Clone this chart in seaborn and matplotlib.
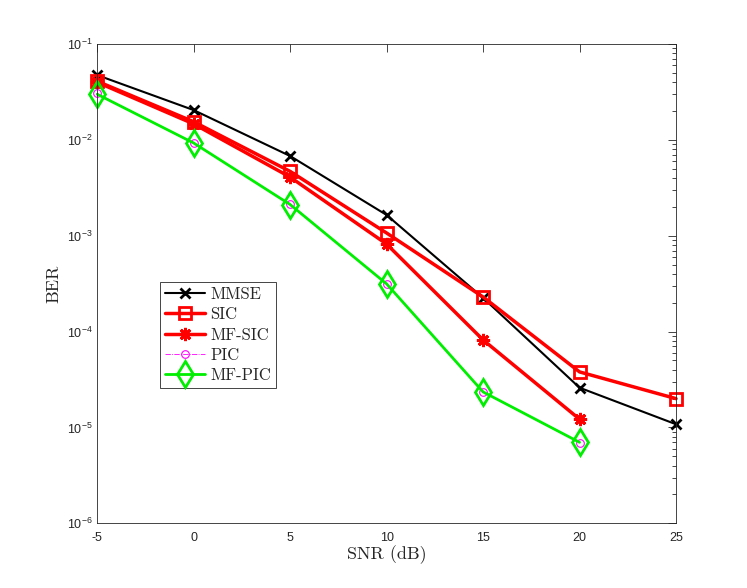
import numpy as np
import pandas as pd
import matplotlib
matplotlib.use("Agg")
import matplotlib.pyplot as plt
import seaborn as sns
from matplotlib.ticker import LogLocator, NullFormatter, FixedLocator

# data
snr_long = [-5, 0, 5, 10, 15, 20, 25]
snr_short = [-5, 0, 5, 10, 15, 20]
mmse = [0.0475, 0.0205, 0.0068, 0.00165, 2.25e-4, 2.6e-5, 1.08e-5]
sic = [0.041, 0.0155, 0.0047, 0.00107, 2.3e-4, 3.8e-5, 2.0e-5]
mf_sic = [0.040, 0.0147, 0.0041, 8.2e-4, 8.2e-5, 1.22e-5]
pic = [0.0306, 0.0092, 0.00215, 3.15e-4, 2.33e-5, 6.97e-6]
mf_pic = [0.0300, 0.0093, 0.00212, 3.15e-4, 2.35e-5, 7.0e-6]

sns.set_style("white")
plt.rcParams['font.family'] = ['Liberation Sans', 'DejaVu Sans']
plt.rcParams['mathtext.default'] = 'regular'
plt.rcParams['axes.unicode_minus'] = False

fig = plt.figure(figsize=(7.47, 5.88), dpi=100)
ax = fig.add_axes([0.13, 0.11, 0.775, 0.815])

# name, x, y, colour, line width, line style, marker, marker size, marker edge width
series = [
    ("MMSE", snr_long, mmse, "black", 1.5, "-", "x", 7.5, 2.0),
    ("SIC", snr_long, sic, "#ff0000", 2.5, "-", "s", 8.5, 2.0),
    ("MF-SIC", snr_short, mf_sic, "#ff0000", 2.5, "-", (8, 2, 0), 9.5, 2.0),
    ("PIC", snr_short, pic, "#ff00ff", 0.6, "-.", "o", 5.5, 0.8),
    ("MF-PIC", snr_short, mf_pic, "#00ee00", 2.0, "-", "d", 13.5, 2.0),
]

for name, xs, ys, col, lw, ls, mk, ms, mew in series:
    df = pd.DataFrame({"SNR": xs, "BER": ys})
    sns.lineplot(data=df, x="SNR", y="BER", ax=ax, color=col, linewidth=lw,
                 linestyle=ls, marker=mk, markersize=ms, markeredgewidth=mew,
                 markeredgecolor=col, markerfacecolor="none", label=name,
                 clip_on=False)

ax.set_yscale("log")
ax.set_xlim(-5, 25)
ax.set_ylim(1e-6, 1e-1)
ax.set_xticks([-5, 0, 5, 10, 15, 20, 25])
ax.yaxis.set_major_locator(FixedLocator([1e-6, 1e-5, 1e-4, 1e-3, 1e-2, 1e-1]))
ax.yaxis.set_minor_locator(LogLocator(base=10, subs=np.arange(2, 10), numticks=20))
ax.yaxis.set_minor_formatter(NullFormatter())

edge = "#262626"
for sp in ax.spines.values():
    sp.set_color(edge)
    sp.set_linewidth(0.6)
ax.tick_params(which="both", direction="in", top=True, right=True,
               color=edge, labelcolor=edge, labelsize=9, width=0.6)
ax.tick_params(which="major", length=6)
ax.tick_params(which="minor", length=3)
ax.tick_params(axis="x", pad=6)

ax.set_xlabel("SNR (dB)", family="cmr10", fontsize=13, color=edge, labelpad=1)
ax.set_ylabel("BER", family="cmr10", fontsize=13, color=edge, labelpad=4)

leg = ax.legend(loc="lower left", bbox_to_anchor=(0.109, 0.282), frameon=True,
                fancybox=False, framealpha=1, edgecolor=edge,
                prop={"family": "cmr10", "size": 12},
                handlelength=2.4, handletextpad=0.3, borderpad=0.3,
                labelspacing=0.3, borderaxespad=0)
leg.get_frame().set_linewidth(0.6)

fig.savefig("out.png", dpi=100, facecolor="white")
